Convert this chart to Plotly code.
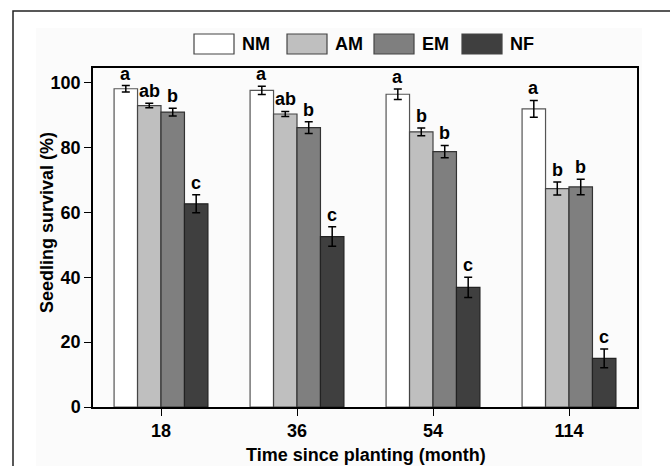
import plotly.graph_objects as go

# ---- data ----
months = ["18", "36", "54", "114"]
series_names = ["NM", "AM", "EM", "NF"]
nm_mean = [98.2, 97.7, 96.5, 92.0]
am_mean = [93.0, 90.4, 84.9, 67.4]
em_mean = [91.0, 86.2, 78.8, 67.9]
nf_mean = [62.7, 52.6, 36.9, 15.0]
nm_err = [1.0, 1.3, 1.6, 2.6]
am_err = [0.7, 0.8, 1.2, 2.0]
em_err = [1.2, 1.8, 1.9, 2.4]
nf_err = [2.8, 3.0, 3.1, 2.9]
nm_letters = ["a", "a", "a", "a"]
am_letters = ["ab", "ab", "b", "b"]
em_letters = ["b", "b", "b", "b"]
nf_letters = ["c", "c", "c", "c"]
y_ticks = [0, 20, 40, 60, 80, 100]

means = [nm_mean, am_mean, em_mean, nf_mean]
errs = [nm_err, am_err, em_err, nf_err]
letters = [nm_letters, am_letters, em_letters, nf_letters]
colors = ["#ffffff", "#bfbfbf", "#7f7f7f", "#3f3f3f"]
line_colors = ["#555555", "#444444", "#333333", "#222222"]

W, H = 670, 466
ML, MR, MT, MB = 93, 33, 68, 59
PW, PH = W - ML - MR, H - MT - MB
BARGAP = 0.31
FONT = "Liberation Sans, Arial, sans-serif"


def px(x):
    return (x - ML) / PW


def py(y):
    return (H - MB - y) / PH


fig = go.Figure()
for name, m, e, c, lc in zip(series_names, means, errs, colors, line_colors):
    fig.add_trace(go.Bar(
        x=months, y=m, name=name,
        marker=dict(color=c, line=dict(color=lc, width=1.2)),
        error_y=dict(type="data", array=e, visible=True, color="#000000",
                     thickness=1.5, width=4),
        showlegend=False,
    ))

annotations = []
nser = len(series_names)
bw = (1 - BARGAP) / nser
for si in range(nser):
    for ci in range(len(months)):
        annotations.append(dict(
            x=ci + (si - (nser - 1) / 2) * bw, y=means[si][ci] + errs[si][ci],
            xref="x", yref="y", text=letters[si][ci], showarrow=False,
            yanchor="bottom", xanchor="center", yshift=0,
            font=dict(family=FONT, size=18, color="#000000", weight="bold"),
        ))

# axis titles
annotations.append(dict(
    x=px(366), y=py(466), xref="paper", yref="paper",
    text="Time since planting (month)", showarrow=False,
    xanchor="center", yanchor="bottom", borderpad=0,
    font=dict(family=FONT, size=18, color="#000000", weight="bold"),
))
annotations.append(dict(
    x=px(47), y=py(223), xref="paper", yref="paper",
    text="Seedling survival (%)", showarrow=False, textangle=-90,
    xanchor="center", yanchor="middle",
    font=dict(family=FONT, size=18, color="#000000", weight="bold"),
))

shapes = []
# faint background panel and outer frame
shapes.append(dict(type="rect", xref="paper", yref="paper", layer="below",
                   x0=px(36), x1=px(642), y0=py(470), y1=py(28),
                   fillcolor="#fbfbfb", line=dict(width=0)))
shapes.append(dict(type="rect", xref="paper", yref="paper",
                   x0=px(13), x1=px(680), y0=py(480), y1=py(11),
                   fillcolor="rgba(0,0,0,0)", line=dict(color="#222222", width=1.5)))

# custom legend
leg_x = [194, 287, 374, 462]
for name, c, lx in zip(series_names, colors, leg_x):
    shapes.append(dict(type="rect", xref="paper", yref="paper",
                       x0=px(lx), x1=px(lx + 40), y0=py(54), y1=py(34),
                       fillcolor=c, line=dict(color="#444444", width=1.2)))
    annotations.append(dict(
        x=px(lx + 46), y=py(44), xref="paper", yref="paper", text=name,
        showarrow=False, xanchor="left", yanchor="middle",
        font=dict(family=FONT, size=18, color="#000000", weight="bold"),
    ))

fig.update_layout(
    width=W, height=H,
    margin=dict(l=ML, r=MR, t=MT, b=MB, pad=0),
    paper_bgcolor="#ffffff", plot_bgcolor="#fcfcfc",
    barmode="group", bargap=BARGAP, bargroupgap=0.0,
    font=dict(family=FONT, size=18, color="#000000"),
    annotations=annotations, shapes=shapes,
    showlegend=False,
)
fig.update_xaxes(
    type="category", showline=True, linecolor="#000000", linewidth=1.5,
    mirror=True, ticks="outside", ticklen=7, tickwidth=1.2, tickcolor="#000000",
    tickfont=dict(family=FONT, size=18, color="#000000", weight="bold"),
    showgrid=False, zeroline=False,
)
fig.update_yaxes(
    range=[0, 104.6], tickvals=y_ticks, showline=True, linecolor="#000000",
    linewidth=1.5, mirror=True, ticks="outside", ticklen=7, tickwidth=1.2,
    tickcolor="#000000",
    tickfont=dict(family=FONT, size=18, color="#000000", weight="bold"),
    showgrid=False, zeroline=False,
)

fig.write_html(
    "out.html",
    config={"displayModeBar": False},
    post_script="document.body.style.margin='0';document.body.style.padding='0';",
)
